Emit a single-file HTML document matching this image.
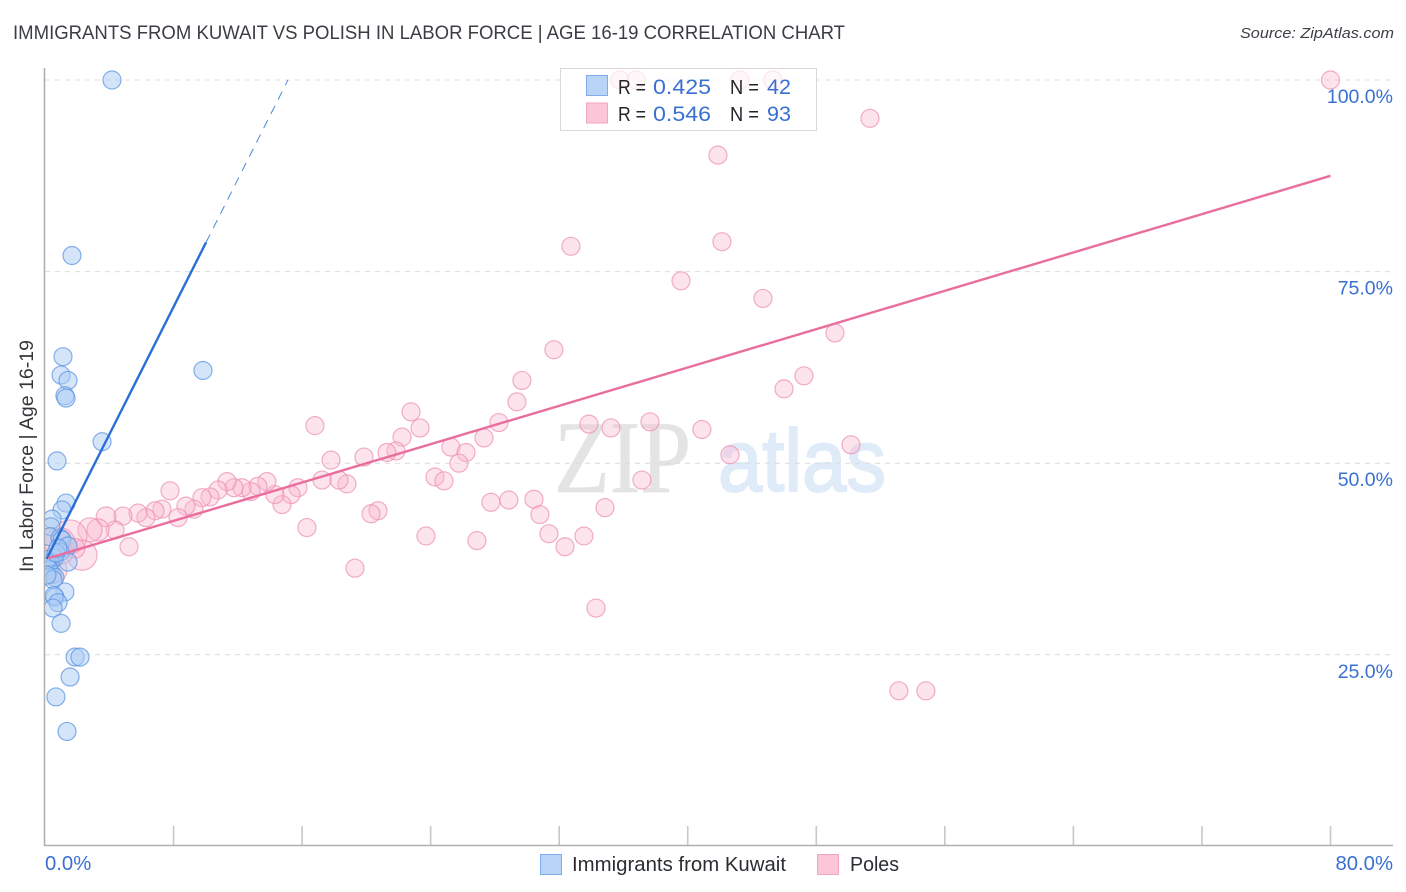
<!DOCTYPE html>
<html>
<head>
<meta charset="utf-8">
<title>Immigrants from Kuwait vs Polish in Labor Force | Age 16-19 Correlation Chart</title>
<style>
html,body{margin:0;padding:0;background:#fff;}
svg{display:block;font-family:"Liberation Sans",sans-serif;}
</style>
</head>
<body>
<svg id="chart" width="1406" height="892" viewBox="0 0 1406 892" xmlns="http://www.w3.org/2000/svg">
  <defs>
    <clipPath id="plot-clip"><rect x="45" y="60" width="1361" height="786"/></clipPath>
  </defs>
  <text x="13" y="39" font-size="19" fill="#3a3e44" textLength="832" lengthAdjust="spacingAndGlyphs">IMMIGRANTS FROM KUWAIT VS POLISH IN LABOR FORCE | AGE 16-19 CORRELATION CHART</text>
  <text x="1394" y="38" font-size="15" font-style="italic" fill="#3c4046" text-anchor="end" textLength="154" lengthAdjust="spacingAndGlyphs">Source: ZipAtlas.com</text>

  <g>
    <text x="554" y="492" font-family="'Liberation Serif',serif" font-size="103" fill="#e4e4e4" stroke="#e4e4e4" stroke-width="0.8" textLength="137" lengthAdjust="spacingAndGlyphs">ZIP</text>
    <text x="718" y="491" font-size="88" fill="#e0ebf9" stroke="#e0ebf9" stroke-width="2" textLength="168" lengthAdjust="spacingAndGlyphs">atlas</text>
  </g>

  <g id="grid"></g>
  <g id="xticks"></g>
  <line x1="44.5" y1="68" x2="44.5" y2="846" stroke="#b0b0b0" stroke-width="1.6"/>
  <line x1="44" y1="845.5" x2="1393" y2="845.5" stroke="#b0b0b0" stroke-width="1.6"/>

  <g id="poles-points" clip-path="url(#plot-clip)"></g>
  <g id="kuwait-points" clip-path="url(#plot-clip)"></g>
  <g id="trends"></g>
  <g id="ylabels"></g>
  <g id="xlabels"></g>

  <text transform="translate(33,572) rotate(-90)" font-size="19.5" fill="#33373c" textLength="232" lengthAdjust="spacingAndGlyphs">In Labor Force | Age 16-19</text>

  <g>
    <rect x="560.5" y="68.5" width="256" height="62" fill="#fff" fill-opacity="0.7" stroke="#d8d8d8" stroke-width="1"/>
    <rect x="586.5" y="75.5" width="21" height="20" fill="#b9d4f7" stroke="#7eaee8"/>
    <rect x="586.5" y="103" width="21" height="20" fill="#fdc6d8" stroke="#f3a4bf"/>
    <text x="618" y="94" font-size="20" fill="#22262b" textLength="28" lengthAdjust="spacingAndGlyphs">R =</text>
    <text x="653" y="94" font-size="21.5" fill="#3a70d2" textLength="58" lengthAdjust="spacingAndGlyphs">0.425</text>
    <text x="730" y="94" font-size="20" fill="#22262b" textLength="29" lengthAdjust="spacingAndGlyphs">N =</text>
    <text x="767" y="94" font-size="21.5" fill="#3a70d2" textLength="24" lengthAdjust="spacingAndGlyphs">42</text>
    <text x="618" y="121" font-size="20" fill="#22262b" textLength="28" lengthAdjust="spacingAndGlyphs">R =</text>
    <text x="653" y="121" font-size="21.5" fill="#3a70d2" textLength="58" lengthAdjust="spacingAndGlyphs">0.546</text>
    <text x="730" y="121" font-size="20" fill="#22262b" textLength="29" lengthAdjust="spacingAndGlyphs">N =</text>
    <text x="767" y="121" font-size="21.5" fill="#3a70d2" textLength="24" lengthAdjust="spacingAndGlyphs">93</text>
  </g>

  <g>
    <rect x="540.5" y="854.5" width="21" height="20" fill="#b9d4f7" stroke="#7eaee8"/>
    <text x="572" y="871" font-size="20" fill="#2a2e33" textLength="214" lengthAdjust="spacingAndGlyphs">Immigrants from Kuwait</text>
    <rect x="817.5" y="854.5" width="21" height="20" fill="#fdc6d8" stroke="#f3a4bf"/>
    <text x="850" y="871" font-size="20" fill="#2a2e33" textLength="49" lengthAdjust="spacingAndGlyphs">Poles</text>
  </g>
</svg>

<script>
const yTickValues = [25, 50, 75, 100];
const yTickLabels = ["25.0%", "50.0%", "75.0%", "100.0%"];
const xTickValues = [8, 16, 24, 32, 40, 48, 56, 64, 72, 80];
const xEndValues = [0, 80];
const xEndLabels = ["0.0%", "80.0%"];

const kuwaitX = [4.17,1.68,1.12,1.0,1.43,1.24,1.31,9.83,3.55,0.75,1.31,1.06,0.44,0.37,0.31,0.93,1.06,1.43,0.93,1.43,0.56,0.31,0.19,0.25,0.44,0.62,0.5,1.24,0.62,0.56,0.81,0.5,1.0,1.87,2.18,1.56,0.68,1.37,0.12,0.68,0.12,0.81];
const kuwaitY = [100,77.1,63.9,61.5,60.8,58.8,58.5,62.1,52.8,50.3,44.8,43.9,42.7,41.7,40.4,40.2,40.0,39.2,38.4,37.1,37.6,37.1,36.6,36.1,35.5,35.1,34.8,33.2,32.5,32.7,31.8,31.1,29.1,24.7,24.7,22.1,19.5,15.0,37.4,38.3,35.4,38.9];

const polesX = [80,51.34,41.88,42.13,32.73,39.58,44.68,49.16,31.67,29.68,47.23,45.99,29.37,22.78,23.34,16.8,22.22,28.25,27.32,33.85,35.22,37.65,40.88,42.63,50.16,25.26,26.2,25.76,21.84,21.28,19.85,17.8,24.27,24.83,37.15,27.75,28.87,30.43,30.8,34.85,31.36,32.36,33.54,34.29,53.14,54.82,26.88,23.71,19.29,20.72,20.29,16.3,18.79,18.3,17.24,15.74,15.31,14.75,14.31,13.81,13.25,12.82,12.26,11.76,11.33,10.77,10.27,9.77,9.27,8.77,8.28,7.78,7.28,6.85,6.28,5.79,4.85,4.36,5.23,35.78,36.78,43.25,45.3,3.8,3.3,2.8,1.56,2.3,0.93,0.5,1.06,0.31,1.87];
const polesY = [100,95.0,90.2,78.9,78.3,73.8,71.5,67.0,64.8,60.8,61.4,59.7,58.0,56.7,54.6,54.9,53.4,55.3,53.3,55.1,54.6,55.4,54.4,51.1,52.4,52.1,51.4,50.0,51.6,51.4,50.8,50.4,48.2,47.7,47.8,44.9,45.2,45.3,43.3,44.2,40.8,39.1,40.5,31.1,20.3,20.3,39.9,40.5,36.3,43.8,43.4,41.6,47.3,47.8,47.8,46.8,45.9,44.6,45.9,47.6,47.0,46.3,46.8,46.8,47.6,46.5,45.6,45.5,44.0,44.4,42.9,46.4,44.0,43.8,42.9,43.5,43.1,41.3,39.1,100,100,100,100,43.0,41.3,41.3,40.4,38.0,39.6,36.1,38.3,40.4,38.9];
const polesWeight = [1,1,1,1,1,1,1,1,1,1,1,1,1,1,1,1,1,1,1,1,1,1,1,1,1,1,1,1,1,1,1,1,1,1,1,1,1,1,1,1,1,1,1,1,1,1,1,1,1,1,1,1,1,1,1,1,1,1,1,1,1,1,1,1,1,1,1,1,1,1,1,1,1,1,1,1,1,1,1,1,1,1,1,1.2,1.5,1.8,3.5,2.8,2.8,2.4,1.5,1,1.2];

const kuwaitTrendX = [0.1, 10.02];
const kuwaitTrendY = [37.5, 78.8];
const kuwaitExtensionX = [10.02, 15.12];
const kuwaitExtensionY = [78.8, 100];
const polesTrendX = [0.2, 80];
const polesTrendY = [37.6, 87.5];

const NS = 'http://www.w3.org/2000/svg';
function xScale(v){ return 45 + v * (1330.5 - 45) / 80; }
function yScale(v){ return 846.4 - v * 7.664; }
function mk(tag, parent, attrs){
  const el = document.createElementNS(NS, tag);
  for (const k in attrs) el.setAttribute(k, attrs[k]);
  parent.appendChild(el);
  return el;
}

const grid = document.getElementById('grid');
yTickValues.forEach(function(v){
  const el = mk('line', grid, {x1:45, x2:1393, y1:yScale(v), y2:yScale(v), stroke:'#dcdcdc', 'stroke-width':1, 'stroke-dasharray':'5 5'});
  
  
});

const xticks = document.getElementById('xticks');
xTickValues.forEach(function(v){
  const el = mk('line', xticks, {x1:xScale(v), x2:xScale(v), y1:826, y2:846, stroke:'#c8c8c8', 'stroke-width':1.6});
  
  
});

const poleLayer = document.getElementById('poles-points');
polesX.forEach(function(v, i){
  const el = mk('circle', poleLayer, {cx:xScale(v), cy:yScale(polesY[i]), r:9*Math.sqrt(polesWeight[i]), fill:'#f9b6cc', 'fill-opacity':0.38, stroke:'#ee93b2', 'stroke-opacity':0.75, 'stroke-width':1.2});
  
  
});

const kuwaitLayer = document.getElementById('kuwait-points');
kuwaitX.forEach(function(v, i){
  const el = mk('circle', kuwaitLayer, {cx:xScale(v), cy:yScale(kuwaitY[i]), r:9, fill:'#a9cbf5', 'fill-opacity':0.5, stroke:'#5f95e2', 'stroke-opacity':0.75, 'stroke-width':1.2});
  
  
});

const trends = document.getElementById('trends');
const kuwaitTrend = mk('line', trends, {x1:xScale(kuwaitTrendX[0]), y1:yScale(kuwaitTrendY[0]), x2:xScale(kuwaitTrendX[1]), y2:yScale(kuwaitTrendY[1]), stroke:'#2a6fd8', 'stroke-width':2.4});


const kuwaitExtension = mk('line', trends, {x1:xScale(kuwaitExtensionX[0]), y1:yScale(kuwaitExtensionY[0]), x2:xScale(kuwaitExtensionX[1]), y2:yScale(kuwaitExtensionY[1]), stroke:'#4f86dc', 'stroke-width':1, 'stroke-dasharray':'9 7'});


const polesTrend = mk('line', trends, {x1:xScale(polesTrendX[0]), y1:yScale(polesTrendY[0]), x2:xScale(polesTrendX[1]), y2:yScale(polesTrendY[1]), stroke:'#e96d9d', 'stroke-width':2.4});



const ylabels = document.getElementById('ylabels');
yTickValues.forEach(function(v, i){
  const el = mk('text', ylabels, {x:1393, y:yScale(v)+23, 'font-size':19.5, fill:'#3a70d2', 'text-anchor':'end'});
  el.textContent = yTickLabels[i];
  
  
});

const xlabels = document.getElementById('xlabels');
xEndValues.forEach(function(v, i){
  const el = mk('text', xlabels, {x:i === 0 ? 45 : 1393, y:870, 'font-size':20.3, fill:'#3a70d2', 'text-anchor':i === 0 ? 'start' : 'end'});
  el.textContent = xEndLabels[i];
  
  
});
</script>
</body>
</html>
